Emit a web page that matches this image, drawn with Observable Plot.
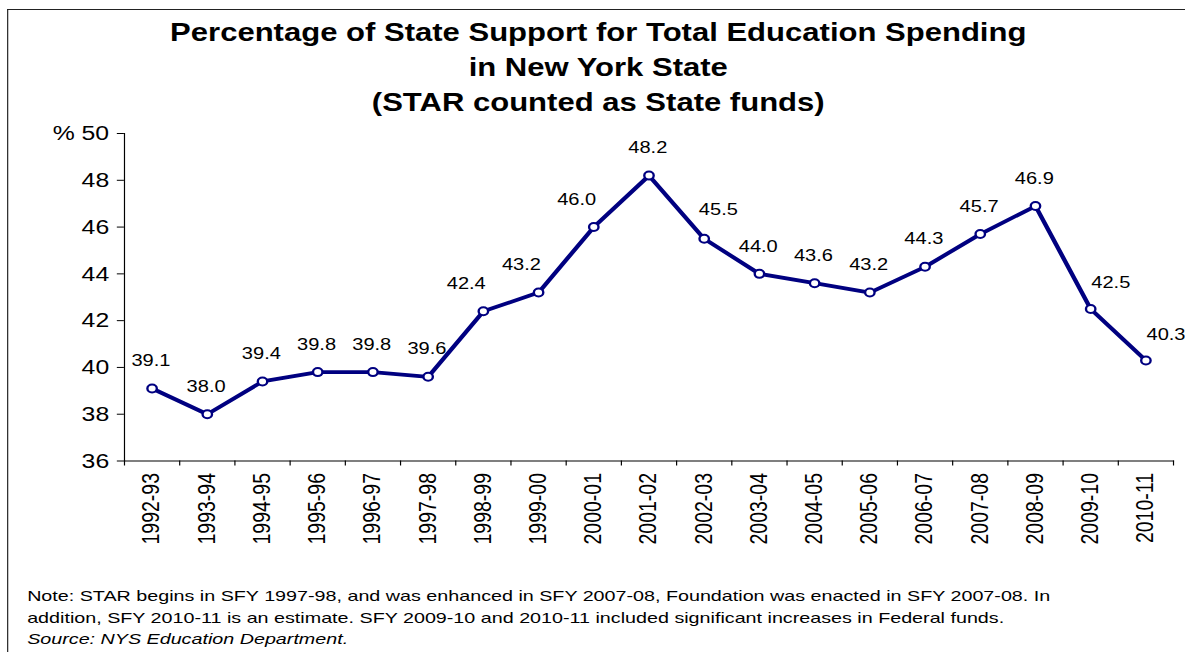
<!DOCTYPE html>
<html>
<head>
<meta charset="utf-8">
<script src="https://cdn.jsdelivr.net/npm/d3@7"></script>
<script src="https://cdn.jsdelivr.net/npm/@observablehq/plot@0.6"></script>
<style>
  html, body { margin: 0; padding: 0; background: #fff; overflow: hidden; }
  body { width: 1185px; height: 652px; }
  #wrap { position: absolute; left: 0; top: 0; width: 1004px; height: 652px;
          transform: scaleX(1.18); transform-origin: 0 0;
          font-family: "Liberation Sans", Arial, sans-serif; color: #000; }
  #frame { position: absolute; left: 5.5px; top: 8.5px; width: 1200px; height: 800px;
           border-left: 1.2px solid #222; border-top: 1.5px solid #222; }
  #title { position: absolute; left: 5px; top: 15px; width: 1004px; text-align: center;
           font-weight: bold; font-size: 26.3px; line-height: 35px; }
  #chart { position: absolute; left: 0; top: 120px; }
  #note { position: absolute; left: 23px; top: 586px; font-size: 14.5px; line-height: 21.5px; white-space: nowrap;
          transform: scaleX(1.152); transform-origin: 0 0; }
  #note i { font-style: italic; }
</style>
</head>
<body>
<div id="wrap">
  <div id="frame"></div>
  <div id="title">Percentage of State Support for Total Education Spending<br>in New York State<br>(STAR counted as State funds)</div>
  <div id="chart"></div>
  <div id="note">Note: STAR begins in SFY 1997-98, and was enhanced in SFY 2007-08, Foundation was enacted in SFY 2007-08. In<br>addition, SFY 2010-11 is an estimate. SFY 2009-10 and 2010-11 included significant increases in Federal funds.<br><i>Source: NYS Education Department.</i></div>
</div>
<script>
const years = ["1992-93","1993-94","1994-95","1995-96","1996-97","1997-98","1998-99","1999-00","2000-01","2001-02","2002-03","2003-04","2004-05","2005-06","2006-07","2007-08","2008-09","2009-10","2010-11"];
const stateShare = [39.1, 38.0, 39.4, 39.8, 39.8, 39.6, 42.4, 43.2, 46.0, 48.2, 45.5, 44.0, 43.6, 43.2, 44.3, 45.7, 46.9, 42.5, 40.3];
const yTicks = [36, 38, 40, 42, 44, 46, 48, 50];
const yUnit = "%";
// which data labels sit up-left, up-right, or to the right of their point
const labelsLeft = ["1998-99", "1999-00", "2000-01"];
const labelsRight = ["2002-03"];
const labelsAfter = ["2009-10", "2010-11"];

const data = years.map((year, i) => ({year, value: stateShare[i]}));
const W = 1004, mL = 105, mR = 10;
const navy = "#000080";
const fmt = d => d.value.toFixed(1);
const isCentered = d => !labelsLeft.includes(d.year) && !labelsRight.includes(d.year) && !labelsAfter.includes(d.year);
const bw = (W - mL - mR) / years.length;

const plot = Plot.plot({
  width: W,
  height: 440,
  marginTop: 13, marginBottom: 99.5, marginLeft: mL, marginRight: mR,
  style: {fontFamily: "'Liberation Sans', Arial, sans-serif", fontSize: "21px", color: "#000", background: "transparent", overflow: "visible"},
  x: {type: "band", domain: years, padding: 0, round: false},
  y: {domain: [36, 50]},
  marks: [
    Plot.frame({anchor: "left", stroke: "#000", strokeWidth: 1}),
    Plot.frame({anchor: "bottom", stroke: "#000", strokeWidth: 1}),
    Plot.axisY({ticks: yTicks, tickSize: 6, tickPadding: 7, fontSize: 21, label: null, stroke: "#000",
      tickFormat: d => d === 50 ? `${yUnit} ${d}` : `${d}`}),
    Plot.axisX({tickSize: 0, tickPadding: 12, tickRotate: -90, fontSize: 19.5, label: null}),
    Plot.axisX({tickSize: 5, text: null, label: null, dx: -bw / 2, stroke: "#000"}),
    Plot.axisX({ticks: [years[years.length - 1]], tickSize: 5, text: null, label: null, dx: bw / 2, stroke: "#000"}),
    Plot.line(data, {x: "year", y: "value", stroke: navy, strokeWidth: 3.8}),
    Plot.dot(data, {x: "year", y: "value", r: 4, fill: "#fff", stroke: navy, strokeWidth: 2}),
    Plot.text(data, {filter: isCentered, x: "year", y: "value", text: fmt,
      dy: -27.8, dx: -1, fontSize: 17, fill: "#000"}),
    Plot.text(data, {filter: d => labelsLeft.includes(d.year), x: "year", y: "value", text: fmt,
      dy: -27.8, dx: -14.5, fontSize: 17, fill: "#000"}),
    Plot.text(data, {filter: d => labelsRight.includes(d.year), x: "year", y: "value", text: fmt,
      dy: -29.5, dx: 12, fontSize: 17, fill: "#000"}),
    Plot.text(data, {filter: d => labelsAfter.includes(d.year), x: "year", y: "value", text: fmt,
      dy: -26, dx: 0.5, textAnchor: "start", fontSize: 17, fill: "#000"})
  ]
});
document.getElementById("chart").appendChild(plot);
</script>
</body>
</html>
